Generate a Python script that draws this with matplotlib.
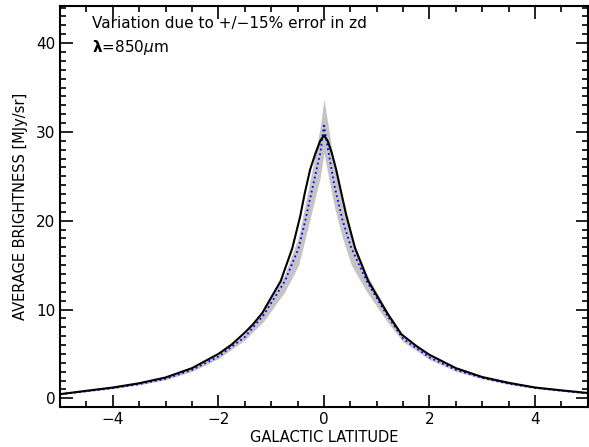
import numpy as np
import matplotlib.pyplot as plt
from matplotlib.ticker import MultipleLocator

# observed average brightness (MJy/sr) vs galactic latitude (deg)
obs_lat = [-5, -4.5, -4, -3.5, -3, -2.5, -2, -1.75, -1.5, -1.35, -1.17, -0.82, -0.60, -0.45, -0.36, -0.26, -0.16, -0.07,
           0, 0.07, 0.15, 0.23, 0.30, 0.42, 0.59, 0.84, 1.22, 1.47, 1.75, 2, 2.5, 3, 3.5, 4, 4.5, 5]
observed = [0.47, 0.85, 1.22, 1.7, 2.35, 3.4, 5.0, 6.05, 7.4, 8.3, 9.6, 13.2, 16.9, 20.5, 23.2, 25.8, 27.6, 29.0,
            29.6, 29.0, 27.6, 25.8, 23.9, 20.7, 16.9, 13.2, 9.4, 7.2, 5.9, 4.9, 3.4, 2.4, 1.75, 1.22, 0.9, 0.6]

# model with nominal zd
mod_lat = [-5, -4.5, -4, -3.5, -3, -2.5, -2, -1.5, -1.14, -0.74, -0.48, -0.35, -0.21, -0.07,
           0, 0.09, 0.2, 0.35, 0.52, 0.81, 1.19, 1.5, 2, 2.5, 3, 3.5, 4, 4.5, 5]
model = [0.45, 0.8, 1.15, 1.6, 2.2, 3.2, 4.7, 6.9, 9.4, 13.2, 16.9, 20.1, 23.9, 27.6,
         30.7, 27.6, 23.9, 20.1, 16.9, 13.2, 9.4, 6.7, 4.6, 3.2, 2.3, 1.65, 1.18, 0.85, 0.55]

# model range for zd +/- 15%
model_hi = [0.47, 0.84, 1.21, 1.68, 2.31, 3.36, 4.94, 7.25, 9.9, 14.0, 18.2, 22.0, 26.1, 30.6,
            33.7, 30.4, 26.1, 22.0, 18.2, 14.0, 9.9, 7.03, 4.83, 3.36, 2.42, 1.73, 1.24, 0.89, 0.58]
model_lo = [0.43, 0.76, 1.09, 1.52, 2.09, 3.04, 4.47, 6.56, 8.7, 12.0, 15.0, 18.1, 21.5, 24.9,
            27.6, 24.8, 21.5, 18.1, 15.0, 12.0, 8.7, 6.37, 4.37, 3.04, 2.19, 1.57, 1.12, 0.81, 0.52]

plt.rcParams['font.family'] = ['DejaVu Sans']

fig = plt.figure(figsize=(5.89, 4.47), dpi=100)
ax = fig.add_axes([0.102, 0.089, 0.896, 0.898])

ax.fill_between(mod_lat, model_lo, model_hi, color='#c4c4c4', linewidth=0, zorder=1)
ax.plot(mod_lat, model, color='blue', linestyle=':', linewidth=1.3, zorder=2)
ax.plot(obs_lat, observed, color='black', linewidth=1.5, zorder=3)

ax.set_xlim(-5, 5)
ax.set_ylim(-1.0, 44.2)

ax.xaxis.set_major_locator(MultipleLocator(2))
ax.xaxis.set_minor_locator(MultipleLocator(0.5))
ax.yaxis.set_major_locator(MultipleLocator(10))
ax.yaxis.set_minor_locator(MultipleLocator(1))
ax.tick_params(which='both', direction='in', top=True, right=True, width=1.2, labelsize=11)
ax.tick_params(which='major', length=9)
ax.tick_params(which='minor', length=4.5)
for sp in ax.spines.values():
    sp.set_linewidth(1.5)

ax.set_xlabel('GALACTIC LATITUDE', fontsize=10.5, labelpad=2)
ax.set_ylabel('AVERAGE BRIGHTNESS [MJy/sr]', fontsize=10.5, labelpad=6)

ax.text(0.06, 0.955, 'Variation due to +/\u221215% error in zd', transform=ax.transAxes,
        fontsize=11, va='center')
ax.text(0.06, 0.897, r'$\mathbf{\lambda}$=850$\mu$m', transform=ax.transAxes,
        fontsize=11, va='center')

fig.savefig('out.png', dpi=100)
